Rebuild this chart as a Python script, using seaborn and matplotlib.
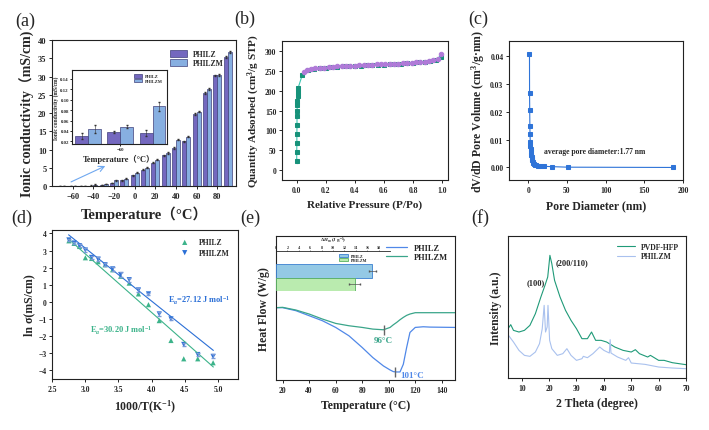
# six-panel figure: conductivity, BET, pore size, Arrhenius, DSC, XRD
import numpy as np
import pandas as pd
import matplotlib
matplotlib.use('Agg')
import matplotlib.pyplot as plt
import seaborn as sns

# ---- (a) ionic conductivity vs temperature
temps = [-70, -60, -50, -40, -30, -20, -10, 0, 10, 20, 30, 40, 50, 60, 70, 80, 90]
sigma_z = [0.031, 0.038, 0.036, 0.10, 0.34, 0.85, 1.6, 3.0, 4.5, 6.4, 8.4, 10.4, 12.2, 19.8, 25.4, 30.3, 35.4]
sigma_zm = [0.044, 0.048, 0.087, 0.37, 0.50, 1.6, 2.0, 3.6, 5.0, 7.2, 9.1, 12.7, 13.5, 20.4, 26.5, 30.5, 36.7]
err_z = [0.006, 0.002, 0.006, 0.05, 0.05, 0.1, 0.1, 0.15, 0.15, 0.2, 0.2, 0.2, 0.2, 0.25, 0.25, 0.25, 0.3]
err_zm = [0.008, 0.003, 0.009, 0.05, 0.05, 0.1, 0.1, 0.15, 0.15, 0.2, 0.2, 0.2, 0.2, 0.25, 0.25, 0.25, 0.3]

# ---- (b) N2 adsorption / desorption
p_ads = [0.001, 0.001, 0.0015, 0.002, 0.002, 0.0025, 0.003, 0.003, 0.0035, 0.004, 0.005, 0.006, 0.007,
         0.009, 0.011, 0.04, 0.08, 0.12, 0.16, 0.20, 0.24, 0.28, 0.32, 0.36, 0.40, 0.44, 0.48, 0.52,
         0.56, 0.60, 0.64, 0.68, 0.72, 0.76, 0.80, 0.84, 0.88, 0.92, 0.96, 0.99]
q_ads = [15, 30, 45, 60, 75, 90, 105, 120, 135, 150, 163, 175, 187, 197, 207, 240, 252, 255, 257, 258,
         259, 260, 261, 262, 262, 263, 264, 264, 265, 265, 266, 267, 268, 269, 270, 271, 273, 275, 278, 286]
p_des = [0.995, 0.97, 0.94, 0.91, 0.88, 0.85, 0.82, 0.79, 0.76, 0.73, 0.70, 0.67, 0.64, 0.61, 0.58,
         0.55, 0.52, 0.49, 0.46, 0.43, 0.40, 0.37, 0.34, 0.31, 0.28, 0.25, 0.22, 0.19, 0.16, 0.13,
         0.10, 0.07, 0.05]
q_des = [292, 280, 276, 274, 273, 272, 271, 270, 270, 269, 268, 268, 267, 267, 266, 266, 265, 265,
         264, 264, 263, 263, 262, 261, 261, 260, 259, 258, 257, 256, 254, 252, 247]

# ---- (c) pore size distribution
pore_d = [1.5, 1.6, 1.8, 2.0, 2.2, 2.5, 2.8, 3.1, 3.4, 3.8, 4.2, 4.7, 5.2, 5.8, 6.5, 7.3, 8.5,
          10, 12, 15, 20, 30, 51, 187]
pore_v = [0.0407, 0.0265, 0.0205, 0.0148, 0.0119, 0.0093, 0.0077, 0.0065, 0.0055, 0.0045, 0.0037,
          0.0030, 0.0025, 0.0020, 0.0016, 0.0013, 0.0010, 0.0008, 0.0006, 0.0005, 0.0004, 0.0003,
          0.0001, 0.0]

# ---- (d) Arrhenius plot
inv_t = [2.755, 2.833, 2.915, 3.003, 3.096, 3.195, 3.300, 3.413, 3.534, 3.663, 3.802, 3.953,
         4.115, 4.292, 4.484, 4.695, 4.926]
ln_z = [3.57, 3.42, 3.24, 2.58, 2.54, 2.35, 2.17, 1.88, 1.50, 1.10, 0.47, -0.16, -1.09, -2.25,
        -3.32, -3.32, -3.55]
ln_zm = [3.62, 3.44, 3.28, 3.03, 2.60, 2.50, 2.17, 1.93, 1.60, 1.30, 0.70, 0.47, -0.70, -0.99,
         -2.48, -3.07, -3.18]
ln_zm_err = [0.08, 0.08, 0.08, 0.1, 0.1, 0.12, 0.1, 0.1, 0.12, 0.12, 0.1, 0.08, 0.12, 0.08, 0.1, 0.1, 0.12]
fit_x = [2.75, 4.93]
fit_zm = [3.92, -2.83]
fit_z = [3.67, -3.80]

# ---- (e) DSC curves
t_dsc = [15, 20, 30, 40, 50, 60, 70, 80, 88, 96, 101, 103.5, 106, 108.5, 111, 113.5, 116, 120, 126, 131, 150]
hf_z = [216, 216, 207, 192, 177, 157, 132, 97, 67, 42, 30, 25, 24, 24, 47, 97, 142, 157, 159, 158, 157]
hf_zm = [216, 217, 209, 197, 182, 169, 162, 157, 152, 150, 157, 165, 172, 180, 187, 193, 197, 201, 201, 201, 201]
dh_labels = ['PHILZ', 'PHILZM']
dh_vals = [16.9, 13.8]
dh_err = [0.6, 1.0]

# ---- (f) XRD
tt_pvdf = [5, 6, 7, 9, 11, 13, 15, 17, 18.5, 19.5, 20, 20.3, 21, 22, 24, 26, 28, 30, 32, 34, 35.5,
           37, 39, 41, 44, 47, 50, 51.5, 53, 56, 57, 60, 62, 65, 70]
i_pvdf = [148, 160, 143, 138, 143, 158, 193, 243, 278, 303, 343, 368, 343, 293, 243, 203, 173, 148,
          118, 118, 138, 113, 113, 108, 93, 83, 78, 85, 73, 63, 68, 53, 53, 46, 40]
tt_zm = [5, 7, 9, 11, 13, 15, 16.5, 17.5, 18.2, 18.7, 19.3, 19.6, 20.2, 21, 23, 25, 26.5, 28, 30,
         32, 32.5, 34, 36, 38.5, 40, 42, 42.3, 42.6, 45, 48, 49, 50, 55, 60, 65, 70]
i_zm = [130, 108, 83, 68, 65, 78, 103, 148, 218, 138, 153, 218, 113, 88, 68, 73, 88, 68, 53,
        58, 65, 61, 73, 93, 83, 75, 115, 75, 63, 53, 61, 45, 41, 33, 30, 28]

c_z, c_zm = '#6a5acd', '#78aef0'

sns.set_style('ticks')
plt.rcParams['font.family'] = ['Liberation Serif', 'Noto Sans CJK SC']
plt.rcParams['font.weight'] = 'bold'
plt.rcParams['axes.labelweight'] = 'bold'
plt.rcParams['mathtext.fontset'] = 'custom'
plt.rcParams['mathtext.rm'] = 'Liberation Serif:bold'
plt.rcParams['mathtext.it'] = 'Liberation Serif:italic:bold'
plt.rcParams['mathtext.bf'] = 'Liberation Serif:bold'
plt.rcParams['axes.linewidth'] = 0.8

fig = plt.figure(figsize=(7.09, 4.31), dpi=100)


def style(ax, size=6):
    for s in ax.spines.values():
        s.set_visible(True)
        s.set_color('#222222')
    ax.tick_params(direction='out', length=2.5, width=0.7, labelsize=size, pad=1.5)


# ---------------- (a)
ax = fig.add_axes([0.0733, 0.5661, 0.2595, 0.3387])
df_a = pd.DataFrame({'T': temps * 2, 'sigma': sigma_z + sigma_zm,
                     'sample': ['PHILZ'] * len(temps) + ['PHILZM'] * len(temps)})
sns.barplot(data=df_a, x='T', y='sigma', hue='sample', native_scale=True, palette=[c_z, c_zm],
            edgecolor='#40407a', linewidth=0.5, errorbar=None, width=0.8, ax=ax)
ax.errorbar(np.array(temps) - 2, sigma_z, yerr=err_z, fmt='none', ecolor='#333333', elinewidth=0.5, capsize=1)
ax.errorbar(np.array(temps) + 2, sigma_zm, yerr=err_zm, fmt='none', ecolor='#333333', elinewidth=0.5, capsize=1)
ax.set_xlim(-80, 98)
ax.set_ylim(0, 40)
ax.set_xticks(range(-60, 81, 20))
ax.set_yticks(range(0, 41, 5))
ax.set_xlabel('Temperature（°C）', fontsize=10.5, labelpad=4)
ax.set_ylabel('Ionic conductivity（mS/cm)', fontsize=10, labelpad=2)
style(ax)
h, l = ax.get_legend_handles_labels()
ax.legend(h, l, loc='upper right', fontsize=5.5, frameon=False, handlelength=2.2, handleheight=1.0,
          bbox_to_anchor=(0.97, 0.98), labelspacing=0.2)
ax.annotate('', xy=(-26, 5.8), xytext=(-64, 0.8),
            arrowprops=dict(arrowstyle='->', color='#6fa8f0', lw=0.8))

axi = fig.add_axes([0.1016, 0.6636, 0.134, 0.1717])
sns.barplot(data=df_a, x='T', y='sigma', hue='sample', native_scale=True, palette=[c_z, c_zm],
            edgecolor='#40407a', linewidth=0.5, errorbar=None, width=0.8, ax=axi)
axi.errorbar(np.array(temps) - 2, sigma_z, yerr=err_z, fmt='none', ecolor='#333333', elinewidth=0.4, capsize=0.8)
axi.errorbar(np.array(temps) + 2, sigma_zm, yerr=err_zm, fmt='none', ecolor='#333333', elinewidth=0.4, capsize=0.8)
axi.set_xlim(-75, -45.5)
axi.set_ylim(0.015, 0.157)
axi.set_xticks([-60])
axi.set_yticks([0.02, 0.04, 0.06, 0.08, 0.10, 0.12, 0.14])
axi.set_yticklabels(['0.02', '0.04', '0.06', '0.08', '0.10', '0.12', '0.14'])
axi.set_xlabel('Temperature（°C）', fontsize=6, labelpad=2)
axi.set_ylabel('Ionic conductivity (mS/cm)', fontsize=4, labelpad=1)
style(axi, 3.5)
axi.tick_params(length=1.2, pad=1)
h, l = axi.get_legend_handles_labels()
axi.legend(h, l, loc='upper right', fontsize=3.2, frameon=False, handlelength=1.8, handleheight=0.9,
           labelspacing=0.1)

# ---------------- (b)
ax = fig.add_axes([0.3977, 0.58, 0.2341, 0.3225])
sns.lineplot(x=p_ads, y=q_ads, sort=False, color='#3ec7b4', lw=0.8, marker='s', markersize=3,
             markerfacecolor='#17927a', markeredgecolor='#17927a', ax=ax)
sns.lineplot(x=p_des, y=q_des, sort=False, color='#3ec7b4', lw=0.8, marker='o', markersize=3.2,
             markerfacecolor='#b07ad8', markeredgecolor='#b07ad8', ax=ax)
ax.set_xlim(-0.1, 1.04)
ax.set_ylim(-25, 325)
ax.set_xticks(np.arange(0, 1.01, 0.2))
ax.set_yticks(range(0, 301, 50))
ax.set_xlabel('Relative Pressure (P/Po)', fontsize=8, labelpad=4)
ax.set_ylabel('Quantity Adsorbed (cm$^3$/g STP)', fontsize=8, labelpad=2)
style(ax, 5.5)

# ---------------- (c)
ax = fig.add_axes([0.7179, 0.58, 0.2454, 0.3225])
sns.lineplot(x=pore_d, y=pore_v, color='#2f74d8', lw=0.8, marker='s', markersize=3,
             markeredgecolor='#2f74d8', ax=ax)
ax.set_xlim(-25, 200)
ax.set_ylim(-0.0045, 0.0453)
ax.set_xticks(range(0, 201, 50))
ax.set_yticks([0.0, 0.01, 0.02, 0.03, 0.04])
ax.set_yticklabels(['0.00', '0.01', '0.02', '0.03', '0.04'])
ax.text(20, 0.006, 'average pore diameter:1.77 nm', fontsize=5.5, va='center')
ax.set_xlabel('Pore Diameter (nm)', fontsize=8.5, labelpad=4)
ax.set_ylabel('dV/dD Pore Volume (cm$^3$/g·nm)', fontsize=8.5, labelpad=2)
style(ax, 5.5)

# ---------------- (d)
ax = fig.add_axes([0.0733, 0.1183, 0.2623, 0.3457])
c_dg, c_db = '#3cb38a', '#2b6fd6'
sns.lineplot(x=fit_x, y=fit_z, color=c_dg, lw=0.8, ax=ax)
sns.lineplot(x=fit_x, y=fit_zm, color=c_db, lw=0.8, ax=ax)
ax.errorbar(inv_t, ln_zm, yerr=ln_zm_err, fmt='none', ecolor='#7a9ad8', elinewidth=0.5, capsize=1.2)
sns.scatterplot(x=inv_t, y=ln_z, marker='^', color=c_dg, s=14, edgecolor='none', label='PHILZ', ax=ax)
sns.scatterplot(x=inv_t, y=ln_zm, marker='v', color=c_db, s=14, edgecolor='none', label='PHILZM', ax=ax)
ax.set_xlim(2.5, 5.3)
ax.set_ylim(-4.5, 4.2)
ax.set_xticks(np.arange(2.5, 5.01, 0.5))
ax.set_yticks(range(-4, 5))
ax.text(4.24, 0.12, 'E$_a$=27.12 J mol$^{-1}$', color=c_db, fontsize=6, va='center')
ax.text(3.07, -1.63, 'E$_a$=30.20 J mol$^{-1}$', color=c_dg, fontsize=6, va='center')
ax.set_xlabel('1000/T(K$^{-1}$)', fontsize=8.5, labelpad=4)
ax.set_ylabel('ln σ(mS/cm)', fontsize=8.5, labelpad=2)
style(ax, 5.5)
ax.legend(loc='upper right', fontsize=5.5, frameon=False, handletextpad=0.8, labelspacing=0.3,
          bbox_to_anchor=(0.99, 0.99))

# ---------------- (e)
ax = fig.add_axes([0.3893, 0.116, 0.2525, 0.3341])
c_eb, c_eg = '#5088e8', '#3aa58a'
sns.lineplot(x=t_dsc, y=hf_z, color=c_eb, lw=0.9, label='PHILZ', ax=ax)
sns.lineplot(x=t_dsc, y=hf_zm, color=c_eg, lw=0.9, label='PHILZM', ax=ax)
ax.plot([96.5], [150], marker='|', color='#666666', markersize=7)
ax.plot([104.5], [24], marker='|', color='#666666', markersize=7)
ax.text(96, 119, '96°C', color=c_eg, fontsize=6.5, ha='center', va='center')
ax.text(109, 15, '101°C', color=c_eb, fontsize=6.5, ha='left', va='center')
ax.set_xlim(15, 150)
ax.set_ylim(0, 430)
ax.set_xticks(range(20, 141, 20))
ax.set_yticks([])
ax.set_xlabel('Temperature (°C)', fontsize=8.5, labelpad=4)
ax.set_ylabel('Heat Flow (W/g)', fontsize=8.5, labelpad=4)
style(ax, 5.5)
ax.legend(loc='upper right', fontsize=6, frameon=False, handlelength=2.5, labelspacing=0.2,
          bbox_to_anchor=(1.0, 1.0))

axe = fig.add_axes([0.3893, 0.3225, 0.1608, 0.0928])
axe.set_facecolor('none')
sns.barplot(x=dh_vals, y=dh_labels, hue=dh_labels, palette=['#87cdf2', '#b4f5a5'], orient='h',
            width=1.0, errorbar=None, legend=False, linewidth=0.6, ax=axe)
for patch, ec, lab in zip(axe.patches, ['#3a7fd0', '#58b060'], dh_labels):
    patch.set_edgecolor(ec)
    patch.set_label(lab)
axe.errorbar(dh_vals, [0, 1], xerr=dh_err, fmt='none', ecolor='#555555', elinewidth=0.5, capsize=1)
axe.set_xlim(0, 20)
axe.set_ylim(1.5, -1.5)
axe.set_xticks(range(0, 19, 2))
axe.xaxis.tick_top()
axe.xaxis.set_label_position('top')
axe.set_xlabel(r'$\Delta H_m$ (J g$^{-1}$)', fontsize=3.6, labelpad=2.5)
axe.set_ylabel('')
axe.set_yticks([])
for s in ['left', 'right', 'bottom']:
    axe.spines[s].set_visible(False)
axe.spines['top'].set_linestyle((0, (1, 1)))
axe.spines['top'].set_linewidth(0.6)
axe.tick_params(axis='x', labelsize=3, length=1, pad=0.5, width=0.4)
axe.legend(handles=list(axe.patches[:2]), loc='upper center', fontsize=3, frameon=False,
           handlelength=2, handleheight=0.8, labelspacing=0.05, bbox_to_anchor=(0.68, 1.02))

# ---------------- (f)
ax = fig.add_axes([0.7165, 0.1206, 0.2511, 0.3295])
sns.lineplot(x=tt_pvdf, y=i_pvdf, color='#1f9a78', lw=0.8, label='PVDF-HFP', ax=ax)
sns.lineplot(x=tt_zm, y=i_zm, color='#a9c1ee', lw=0.8, label='PHILZM', ax=ax)
ax.text(15.3, 288, '(100)', fontsize=6, ha='center', va='center')
ax.text(28.3, 348, '(200/110)', fontsize=6, ha='center', va='center')
ax.set_xlim(5, 70)
ax.set_ylim(0, 426)
ax.set_xticks(range(10, 71, 10))
ax.set_yticks([])
ax.set_xlabel('2 Theta (degree)', fontsize=8.5, labelpad=4)
ax.set_ylabel('Intensity (a.u.)', fontsize=8.5, labelpad=4)
style(ax, 5.5)
ax.legend(loc='upper right', fontsize=5.5, frameon=False, handlelength=2.3, labelspacing=0.2,
          bbox_to_anchor=(1.0, 1.0))

# panel labels
for lab, x, y in [('(a)', 25, 21), ('(b)', 245, 19), ('(c)', 478, 19),
                  ('(d)', 22, 218), ('(e)', 250, 218), ('(f)', 480, 218)]:
    fig.text(x / 709, 1 - y / 431, lab, fontsize=13, fontweight='normal', ha='center', va='center')

fig.savefig('out.png', dpi=100, facecolor='white')
